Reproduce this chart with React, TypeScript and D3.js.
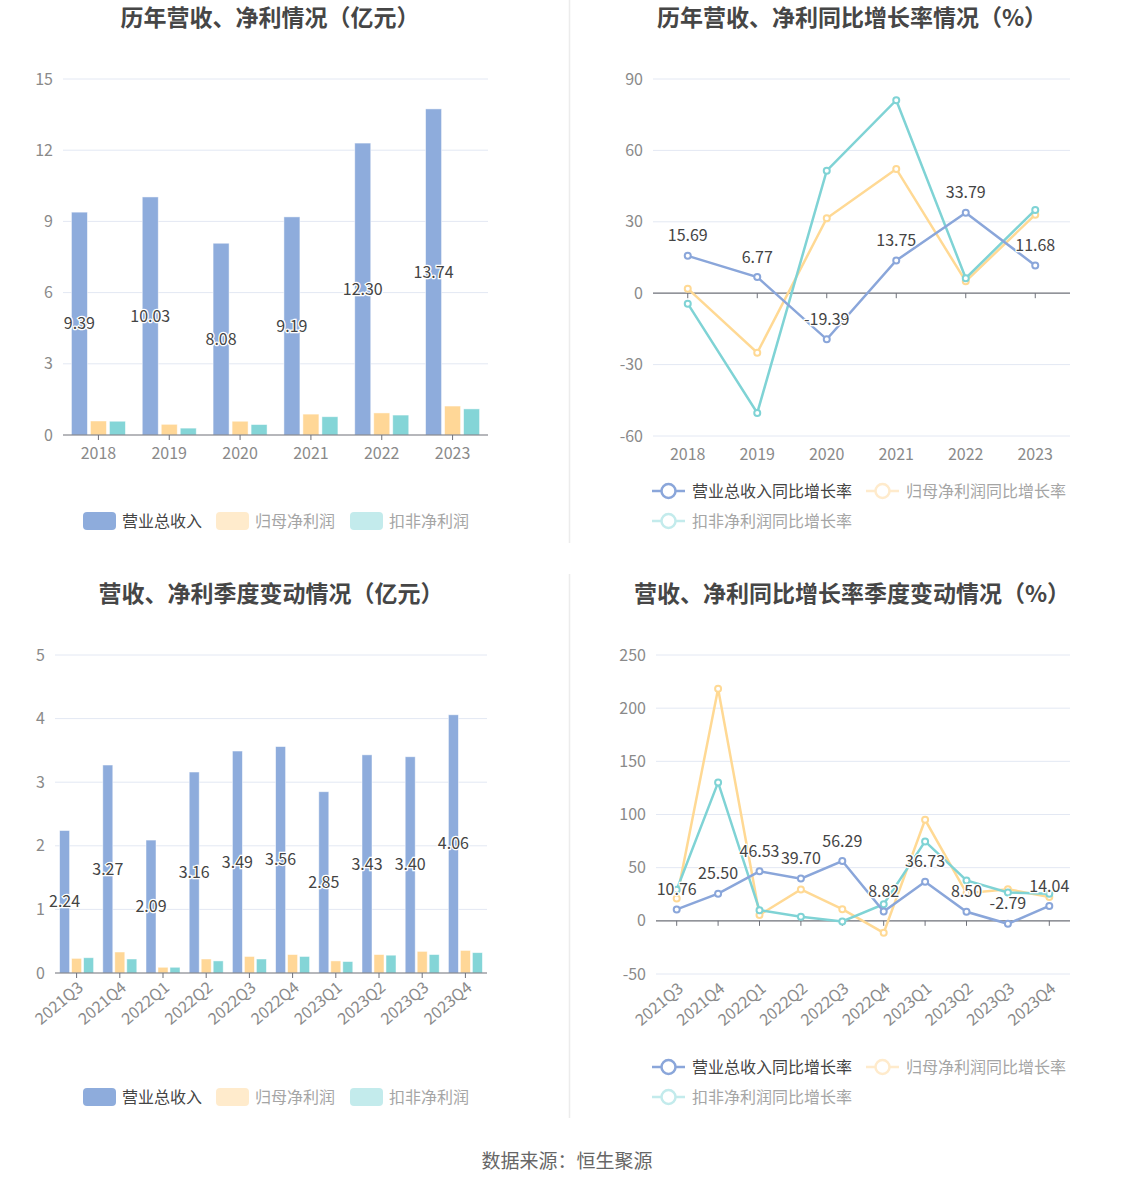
import * as d3 from "d3";
import React, { useEffect } from "react";

const years = ["2018", "2019", "2020", "2021", "2022", "2023"];
const revenue = [9.39, 10.03, 8.08, 9.19, 12.3, 13.74];
const netProfit = [0.59, 0.45, 0.58, 0.88, 0.93, 1.22];
const deductedProfit = [0.58, 0.29, 0.44, 0.77, 0.84, 1.1];

const revenueYoY = [15.69, 6.77, -19.39, 13.75, 33.79, 11.68];
const netProfitYoY = [1.9, -25.0, 31.5, 52.2, 5.0, 33.0];
const deductedYoY = [-4.4, -50.3, 51.5, 81.1, 6.3, 35.0];

const quarters = ["2021Q3", "2021Q4", "2022Q1", "2022Q2", "2022Q3", "2022Q4", "2023Q1", "2023Q2", "2023Q3", "2023Q4"];
const qRevenue = [2.24, 3.27, 2.09, 3.16, 3.49, 3.56, 2.85, 3.43, 3.4, 4.06];
const qNetProfit = [0.23, 0.33, 0.09, 0.22, 0.26, 0.29, 0.19, 0.29, 0.34, 0.355];
const qDeducted = [0.24, 0.22, 0.09, 0.19, 0.22, 0.26, 0.18, 0.28, 0.29, 0.32];

const qRevenueYoY = [10.76, 25.5, 46.53, 39.7, 56.29, 8.82, 36.73, 8.5, -2.79, 14.04];
const qNetYoY = [21, 218.3, 5.6, 29.5, 11, -11.3, 95, 26, 29.8, 22.3];
const qDedYoY = [29.2, 130.2, 10, 3.8, -0.6, 15.7, 74.7, 38, 26.7, 25.4];

const barNames = ["营业总收入", "归母净利润", "扣非净利润"];
const lineNames = ["营业总收入同比增长率", "归母净利润同比增长率", "扣非净利润同比增长率"];

const FONT = "'Noto Sans CJK SC', 'Noto Sans', sans-serif";
const BLUE = "#8eacdc";
const ORANGE = "#ffd797";
const TEAL = "#84d5d7";
const BLUE_LINE = "#8aa6da";
const ORANGE_LINE = "#ffd994";
const TEAL_LINE = "#7fd3d5";
const FADED_ORANGE = "#ffebcc";
const FADED_TEAL = "#c3ebec";
const GRID = "#e3e8f3";
const AXIS = "#6e7079";
const LABEL = "#8a8a8a";
const FS = 16;

interface BarPanelProps {
  cats: string[];
  series: number[][];
  left: number;
  right: number;
  top: number;
  bottom: number;
  max: number;
  tickStep: number;
  barW: number;
  gap: number;
  rotate?: boolean;
  legendY: number;
  legendX: number;
}

const BarPanel = ({ cats, series, left, right, top, bottom, max, tickStep, barW, gap, rotate, legendY, legendX }: BarPanelProps) => {
  const x = d3.scaleBand().domain(cats).range([left, right]);
  const y = d3.scaleLinear().domain([0, max]).range([bottom, top]);
  const ticks = d3.range(0, max + 0.001, tickStep);
  const colors = [BLUE, ORANGE, TEAL];
  const groupW = barW * 3 + gap * 2;
  return (
    <g>
      {ticks.map((t) => (
        <g key={t}>
          {t !== 0 && <line x1={left} x2={right} y1={y(t)} y2={y(t)} stroke={GRID} />}
          <text x={left - 10} y={y(t)} dy="0.35em" textAnchor="end" fontSize={FS} fill={LABEL}>
            {t}
          </text>
        </g>
      ))}
      {series.map((s, si) =>
        s.map((v, i) => {
          const cx = (x(cats[i]) as number) + x.bandwidth() / 2;
          const bx = cx - groupW / 2 + si * (barW + gap);
          return (
            <rect key={si + "-" + i} x={bx} y={y(v)} width={barW} height={y(0) - y(v)} fill={colors[si]} stroke="#ffffff" strokeOpacity={0.6} strokeWidth={0.8} />
          );
        })
      )}
      <line x1={left} x2={right} y1={y(0)} y2={y(0)} stroke={AXIS} strokeWidth={1.2} />
      {cats.map((c) => {
        const cx = (x(c) as number) + x.bandwidth() / 2;
        return (
          <g key={c}>
            <line x1={cx} x2={cx} y1={y(0)} y2={y(0) + 5} stroke={AXIS} />
            {rotate ? (
              <text transform={`translate(${cx + 4},${y(0) + 12}) rotate(-40)`} textAnchor="end" dy="0.35em" fontSize={FS} fill={LABEL}>
                {c}
              </text>
            ) : (
              <text x={cx} y={y(0) + 18} dy="0.35em" textAnchor="middle" fontSize={FS} fill={LABEL}>
                {c}
              </text>
            )}
          </g>
        );
      })}
      {series[0].map((v, i) => {
        const cx = (x(cats[i]) as number) + x.bandwidth() / 2 - groupW / 2 + barW / 2;
        return (
          <text key={i} x={cx} y={(y(v) + y(0)) / 2} dy="0.35em" textAnchor="middle" fontSize={FS} fill="#444" stroke="#fff" strokeWidth={2.5} paintOrder="stroke">
            {v.toFixed(2)}
          </text>
        );
      })}
      <Legend y={legendY} startX={legendX} names={barNames} kind="bar" />
    </g>
  );
};

const Legend = ({ y, startX, names, kind }: { y: number; startX: number; names: string[]; kind: "bar" | "line" }) => {
  if (kind === "bar") {
    const fills = [BLUE, FADED_ORANGE, FADED_TEAL];
    const offsets = [0, 133, 267];
    return (
      <g>
        {names.map((n, i) => (
          <g key={n} transform={`translate(${startX + offsets[i]},${y})`}>
            <rect x={0} y={-9} width={33} height={18} rx={4} fill={fills[i]} />
            <text x={39} y={0} dy="0.35em" fontSize={FS} fill={i === 0 ? "#444" : "#a5a5a5"}>
              {n}
            </text>
          </g>
        ))}
      </g>
    );
  }
  const strokes = [BLUE_LINE, FADED_ORANGE, FADED_TEAL];
  const pos = [
    [0, 0],
    [214, 0],
    [0, 30],
  ];
  return (
    <g>
      {names.map((n, i) => (
        <g key={n} transform={`translate(${startX + pos[i][0]},${y + pos[i][1]})`}>
          <line x1={0} x2={33} y1={0} y2={0} stroke={strokes[i]} strokeWidth={2.5} />
          <circle cx={16.5} cy={0} r={7} fill="#fff" stroke={strokes[i]} strokeWidth={2.5} />
          <text x={40} y={0} dy="0.35em" fontSize={FS} fill={i === 0 ? "#444" : "#a5a5a5"}>
            {n}
          </text>
        </g>
      ))}
    </g>
  );
};

interface LinePanelProps {
  cats: string[];
  series: number[][];
  left: number;
  right: number;
  top: number;
  bottom: number;
  min: number;
  max: number;
  tickStep: number;
  rotate?: boolean;
  legendY: number;
  legendX: number;
}

const LinePanel = ({ cats, series, left, right, top, bottom, min, max, tickStep, rotate, legendY, legendX }: LinePanelProps) => {
  const x = d3.scaleBand().domain(cats).range([left, right]);
  const y = d3.scaleLinear().domain([min, max]).range([bottom, top]);
  const ticks = d3.range(min, max + 0.001, tickStep);
  const cx = (c: string) => (x(c) as number) + x.bandwidth() / 2;
  const line = d3
    .line<number>()
    .x((_, i) => cx(cats[i]))
    .y((d) => y(d));
  const colors = [BLUE_LINE, ORANGE_LINE, TEAL_LINE];
  const order = [1, 2, 0];
  return (
    <g>
      {ticks.map((t) => (
        <g key={t}>
          {t !== 0 && <line x1={left} x2={right} y1={y(t)} y2={y(t)} stroke={GRID} />}
          <text x={left - 10} y={y(t)} dy="0.35em" textAnchor="end" fontSize={FS} fill={LABEL}>
            {t}
          </text>
        </g>
      ))}
      <line x1={left} x2={right} y1={y(0)} y2={y(0)} stroke={AXIS} strokeWidth={1.2} />
      {cats.map((c) => (
        <g key={c}>
          <line x1={cx(c)} x2={cx(c)} y1={y(0)} y2={y(0) + 5} stroke={AXIS} />
          {rotate ? (
            <text transform={`translate(${cx(c) + 4},${bottom + 12}) rotate(-40)`} textAnchor="end" dy="0.35em" fontSize={FS} fill={LABEL}>
              {c}
            </text>
          ) : (
            <text x={cx(c)} y={bottom + 18} dy="0.35em" textAnchor="middle" fontSize={FS} fill={LABEL}>
              {c}
            </text>
          )}
        </g>
      ))}
      {order.map((si) => (
        <g key={si}>
          <path d={line(series[si]) || ""} fill="none" stroke={colors[si]} strokeWidth={2.5} />
          {series[si].map((v, i) => (
            <circle key={i} cx={cx(cats[i])} cy={y(v)} r={3} fill="#fff" stroke={colors[si]} strokeWidth={2} />
          ))}
        </g>
      ))}
      {series[0].map((v, i) => (
        <text key={i} x={cx(cats[i])} y={y(v) - 20} dy="0.35em" textAnchor="middle" fontSize={FS} fill="#444" stroke="#fff" strokeWidth={2.5} paintOrder="stroke">
          {v.toFixed(2)}
        </text>
      ))}
      <Legend y={legendY} startX={legendX} names={lineNames} kind="line" />
    </g>
  );
};

const Title = ({ x, y, text }: { x: number; y: number; text: string }) => (
  <text x={x} y={y} textAnchor="middle" fontSize={23} fontWeight="bold" fill="#464646">
    {text}
  </text>
);

export default function App() {
  useEffect(() => {
    document.body.style.margin = "0";
  }, []);
  return (
    <svg width={1134} height={1188} style={{ display: "block", background: "#fff", fontFamily: FONT }}>
      <line x1={569.5} x2={569.5} y1={0} y2={543} stroke="#ececec" strokeWidth={1.5} />
      <line x1={569.5} x2={569.5} y1={574} y2={1118} stroke="#ececec" strokeWidth={1.5} />

      <Title x={270} y={26} text="历年营收、净利情况（亿元）" />
      <Title x={852} y={26} text="历年营收、净利同比增长率情况（%）" />
      <Title x={271} y={602} text="营收、净利季度变动情况（亿元）" />
      <Title x={852} y={602} text="营收、净利同比增长率季度变动情况（%）" />

      <BarPanel
        cats={years}
        series={[revenue, netProfit, deductedProfit]}
        left={63}
        right={488}
        top={79}
        bottom={435}
        max={15}
        tickStep={3}
        barW={16}
        gap={3}
        legendY={521}
        legendX={83}
      />
      <LinePanel
        cats={years}
        series={[revenueYoY, netProfitYoY, deductedYoY]}
        left={653}
        right={1070}
        top={79}
        bottom={436}
        min={-60}
        max={90}
        tickStep={30}
        legendY={491}
        legendX={652}
      />
      <BarPanel
        cats={quarters}
        series={[qRevenue, qNetProfit, qDeducted]}
        left={55}
        right={487}
        top={655}
        bottom={973}
        max={5}
        tickStep={1}
        barW={10}
        gap={2}
        rotate
        legendY={1097}
        legendX={83}
      />
      <LinePanel
        cats={quarters}
        series={[qRevenueYoY, qNetYoY, qDedYoY]}
        left={656}
        right={1070}
        top={655}
        bottom={974}
        min={-50}
        max={250}
        tickStep={50}
        rotate
        legendY={1067}
        legendX={652}
      />

      <text x={567} y={1161} dy="0.35em" textAnchor="middle" fontSize={19} fill="#666">
        数据来源：恒生聚源
      </text>
    </svg>
  );
}
